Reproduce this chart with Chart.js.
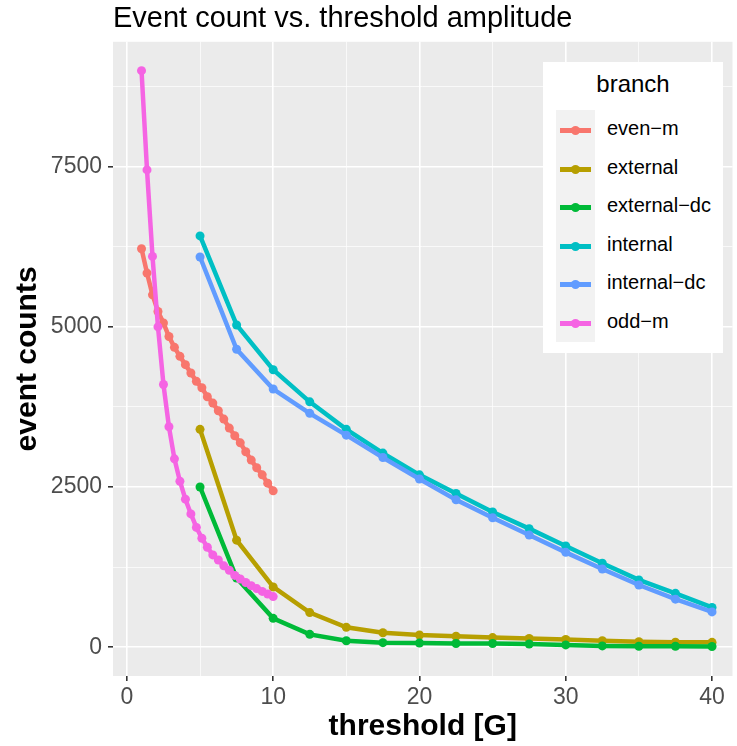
<!DOCTYPE html>
<html>
<head>
<meta charset="utf-8">
<script src="https://cdn.jsdelivr.net/npm/chart.js@4"></script>
<style>
  body { margin: 0; background: #fff; font-family: "Liberation Sans", Arial, sans-serif; }
  #wrap { position: relative; width: 737px; height: 746px; }
  #legend {
    position: absolute; left: 543px; top: 62px; width: 180px; height: 291px;
    background: #fff;
  }
  #legend .ttl { position: absolute; left: 0; width: 100%; top: 8px; text-align: center; font-size: 24px; color: #000; }
  #legend .keys { position: absolute; left: 13px; top: 48px; width: 39px; height: 232px; background: #f2f2f2; }
  .row { position: absolute; left: 0; width: 180px; height: 38px; }
  .row .ln { position: absolute; left: 17px; top: 17px; width: 31px; height: 5px; }
  .row .dt { position: absolute; left: 28px; top: 15px; width: 9px; height: 9px; border-radius: 50%; }
  .row .lb { position: absolute; left: 64px; top: 6px; font-size: 20px; color: #000; }
</style>
</head>
<body>
<div id="wrap">
  <canvas id="chart"></canvas>
  <div id="legend">
    <div class="ttl">branch</div>
    <div class="keys"></div>
  </div>
</div>
<script>
// thresholds
const thresholdFine = [1, 1.375, 1.75, 2.125, 2.5, 2.875, 3.25, 3.625, 4, 4.375, 4.75, 5.125, 5.5,
  5.875, 6.25, 6.625, 7, 7.375, 7.75, 8.125, 8.5, 8.875, 9.25, 9.625, 10];
const thresholdCoarse = [5, 7.5, 10, 12.5, 15, 17.5, 20, 22.5, 25, 27.5, 30, 32.5, 35, 37.5, 40];

// event counts per branch
const evenM = [6220, 5840, 5500, 5240, 5060, 4850, 4680, 4540, 4410, 4280, 4150, 4050, 3910,
  3810, 3690, 3560, 3420, 3300, 3190, 3050, 2920, 2800, 2690, 2560, 2440];
const oddM = [9000, 7450, 6100, 5000, 4100, 3440, 2940, 2590, 2310, 2080, 1870, 1700, 1560,
  1440, 1360, 1270, 1200, 1120, 1065, 1010, 960, 915, 870, 830, 790];
const external = [3400, 1670, 940, 540, 310, 225, 190, 170, 150, 135, 120, 100, 85, 78, 75];
const externalDc = [2500, 1080, 450, 200, 100, 70, 65, 57, 57, 50, 35, 20, 15, 15, 10];
const internal = [6420, 5030, 4330, 3830, 3400, 3030, 2690, 2400, 2110, 1850, 1580, 1310, 1050, 840, 620];
const internalDc = [6090, 4650, 4030, 3650, 3310, 2960, 2625, 2300, 2020, 1750, 1480, 1220, 970, 750, 550];

const branchNames = ['even−m', 'external', 'external−dc', 'internal', 'internal−dc', 'odd−m'];
const branchColors = ['#F8766D', '#B79F00', '#00BA38', '#00BFC4', '#619CFF', '#F564E3'];
const branchX = [thresholdFine, thresholdCoarse, thresholdCoarse, thresholdCoarse, thresholdCoarse, thresholdFine];
const branchY = [evenM, external, externalDc, internal, internalDc, oddM];

// axis ticks (major get labels, minor only a grid line)
const xMajor = [0, 10, 20, 30, 40];
const xMinor = [5, 15, 25, 35];
const yMajor = [0, 2500, 5000, 7500];
const yMinor = [1250, 3750, 6250, 8750];

const datasets = branchNames.map((name, i) => ({
  label: name,
  data: branchX[i].map((x, j) => ({ x: x, y: branchY[i][j] })),
  showLine: true,
  borderColor: branchColors[i],
  backgroundColor: branchColors[i],
  borderWidth: 4.5,
  pointRadius: 4.5,
  pointBorderWidth: 0,
  order: branchNames.length - i   // last branch on top, as ggplot does
}));

// HTML legend with ggplot-like keys
const legend = document.getElementById('legend');
branchNames.forEach((name, i) => {
  const row = document.createElement('div');
  row.className = 'row';
  row.style.top = (49 + i * 38.5) + 'px';
  row.innerHTML = `<div class="ln" style="background:${branchColors[i]}"></div>` +
    `<div class="dt" style="background:${branchColors[i]}"></div>` +
    `<div class="lb">${name}</div>`;
  legend.appendChild(row);
});

const isMajor = (list) => (c) => c.tick && list.includes(c.tick.value);

const ctx = document.getElementById('chart').getContext('2d');
new Chart(ctx, {
  type: 'scatter',
  data: { datasets: datasets },
  options: {
    responsive: true,
    maintainAspectRatio: false,
    animation: false,
    layout: { padding: { left: 0, right: 3, top: 0, bottom: 0 } },
    plugins: {
      legend: { display: false },
      tooltip: { enabled: false },
      title: {
        display: true,
        text: 'Event count vs. threshold amplitude',
        align: 'start',
        fullSize: false,
        color: '#000',
        font: { family: 'Liberation Sans', size: 29, weight: 'normal', lineHeight: 1.2 },
        padding: { top: 2, bottom: 5 }
      }
    },
    scales: {
      x: {
        type: 'linear',
        min: -0.95,
        max: 41.4,
        afterBuildTicks: (s) => { s.ticks = xMajor.concat(xMinor).sort((a, b) => a - b).map(v => ({ value: v })); },
        afterFit: (s) => { s.height = 70; },
        ticks: {
          color: '#4D4D4D',
          font: { family: 'Liberation Sans', size: 23 },
          padding: 3,
          maxRotation: 0,
          autoSkip: false,
          callback: (v) => xMajor.includes(v) ? String(v) : ''
        },
        grid: {
          color: '#FFFFFF',
          lineWidth: (c) => isMajor(xMajor)(c) ? 1.6 : 0.7,
          tickColor: (c) => isMajor(xMajor)(c) ? '#333333' : 'rgba(0,0,0,0)',
          tickLength: 5,
          tickWidth: 1.6
        },
        border: { display: false },
        title: {
          display: true,
          text: 'threshold [G]',
          color: '#000',
          font: { family: 'Liberation Sans', size: 30, weight: 'bold', lineHeight: 1.2 },
          padding: { top: 0, bottom: 1 }
        }
      },
      y: {
        type: 'linear',
        min: -450,
        max: 9450,
        afterBuildTicks: (s) => { s.ticks = yMajor.concat(yMinor).sort((a, b) => a - b).map(v => ({ value: v })); },
        afterFit: (s) => { s.width = 113; },
        ticks: {
          color: '#4D4D4D',
          font: { family: 'Liberation Sans', size: 23 },
          padding: 6,
          autoSkip: false,
          callback: (v) => yMajor.includes(v) ? String(v) : ''
        },
        grid: {
          color: '#FFFFFF',
          lineWidth: (c) => isMajor(yMajor)(c) ? 1.6 : 0.7,
          tickColor: (c) => isMajor(yMajor)(c) ? '#333333' : 'rgba(0,0,0,0)',
          tickLength: 5,
          tickWidth: 1.6
        },
        border: { display: false },
        title: {
          display: true,
          text: 'event counts',
          color: '#000',
          font: { family: 'Liberation Sans', size: 30, weight: 'bold', lineHeight: 1.2 },
          padding: { top: 10, bottom: 0 }
        }
      }
    }
  },
  plugins: [{
    id: 'panelBg',
    beforeDraw(chart) {
      const a = chart.chartArea;
      const c = chart.ctx;
      c.save();
      c.fillStyle = '#EBEBEB';
      c.fillRect(a.left, a.top, a.right - a.left, a.bottom - a.top);
      c.restore();
    }
  }]
});
</script>
</body>
</html>
